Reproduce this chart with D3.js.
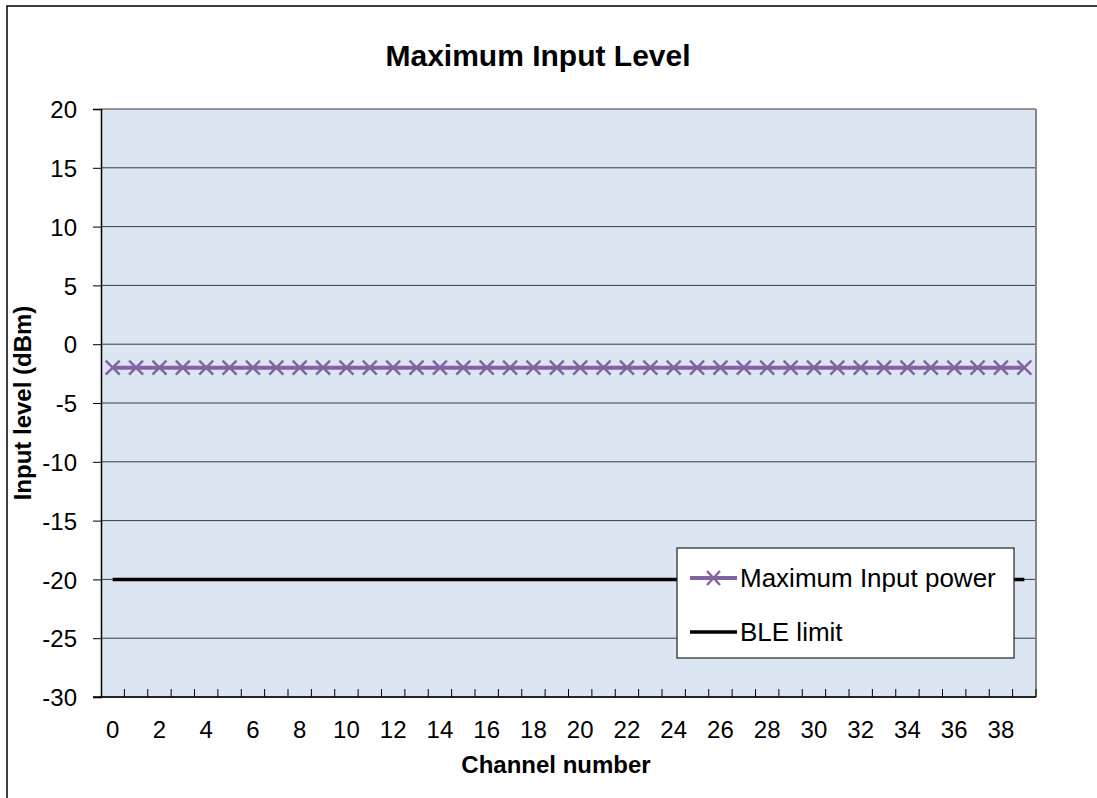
<!DOCTYPE html>
<html><head><meta charset="utf-8">
<script src="https://cdn.jsdelivr.net/npm/d3@7"></script>
<style>body{margin:0;background:#fff}svg{display:block;font-family:"Liberation Sans",Arial,sans-serif}</style>
</head><body>
<script>
const channels = d3.range(0, 40);
const maxInputPower = [-2,-2,-2,-2,-2,-2,-2,-2,-2,-2,-2,-2,-2,-2,-2,-2,-2,-2,-2,-2,-2,-2,-2,-2,-2,-2,-2,-2,-2,-2,-2,-2,-2,-2,-2,-2,-2,-2,-2,-2];
const bleLimit = [-20,-20,-20,-20,-20,-20,-20,-20,-20,-20,-20,-20,-20,-20,-20,-20,-20,-20,-20,-20,-20,-20,-20,-20,-20,-20,-20,-20,-20,-20,-20,-20,-20,-20,-20,-20,-20,-20,-20,-20];
const yTicks = [20,15,10,5,0,-5,-10,-15,-20,-25,-30];
const seriesNames = ["Maximum Input power","BLE limit"];

const W = 1097, H = 798;
const m = {l:101, t:109, r:1036, b:697};
const FF = "'Liberation Sans',Arial,sans-serif";
const svg = d3.select("body").append("svg").attr("width",W).attr("height",H);

// outer border
svg.append("rect").attr("x",7).attr("y",6).attr("width",W+10).attr("height",H+10)
  .attr("fill","none").attr("stroke","#000").attr("stroke-width",1.5);

const x = d3.scaleBand().domain(channels).range([m.l,m.r]).paddingInner(0).paddingOuter(0);
const y = d3.scaleLinear().domain([-30,20]).range([m.b,m.t]);

svg.append("rect").attr("x",m.l).attr("y",m.t).attr("width",m.r-m.l).attr("height",m.b-m.t)
  .attr("fill","#DCE6F2");

// gridlines
svg.append("g").selectAll("line").data(yTicks).join("line")
  .attr("x1",m.l).attr("x2",m.r).attr("y1",d=>y(d)).attr("y2",d=>y(d))
  .attr("stroke","#3a3a3a").attr("stroke-width",1);

// right border
svg.append("line").attr("x1",m.r).attr("x2",m.r).attr("y1",m.t).attr("y2",m.b)
  .attr("stroke","#888").attr("stroke-width",2);

// y axis
const yAxis = d3.axisLeft(y).tickValues(yTicks).tickSize(8).tickPadding(16).tickFormat(d=>String(d));
const gy = svg.append("g").attr("transform",`translate(${m.l},0)`).call(yAxis);
gy.select(".domain").attr("stroke","#000").attr("stroke-width",1.5);
gy.selectAll(".tick line").attr("stroke","#000");
gy.selectAll("text").attr("font-size",24).attr("fill","#000").style("font-family",FF).attr("dy","0.36em");

// x axis: ticks between categories, labels every 2
const gx = svg.append("g").attr("transform",`translate(0,${m.b})`);
gx.append("line").attr("x1",m.l-8).attr("x2",m.r).attr("y1",0).attr("y2",0).attr("stroke","#000").attr("stroke-width",1.5);
const bounds = d3.range(1, channels.length+1).map(i => m.l + i*x.step());
gx.selectAll("line.t").data(bounds).join("line").attr("class","t")
  .attr("x1",d=>d).attr("x2",d=>d).attr("y1",0).attr("y2",-8).attr("stroke","#000");
gx.selectAll("text").data(channels.filter(c=>c%2===0)).join("text")
  .attr("x",d=>x(d)+x.bandwidth()/2).attr("y",41).attr("text-anchor","middle")
  .attr("font-size",24).text(d=>d);

const cx = d => x(d)+x.bandwidth()/2;

// BLE limit
svg.append("path").datum(channels).attr("fill","none").attr("stroke","#000").attr("stroke-width",3.5)
  .attr("d", d3.line().x(cx).y((d,i)=>y(bleLimit[i])));

// Max input power
svg.append("path").datum(channels).attr("fill","none").attr("stroke","#8064A2").attr("stroke-width",4)
  .attr("d", d3.line().x(cx).y((d,i)=>y(maxInputPower[i])));
const s = 7;
const mk = svg.append("g").attr("stroke","#8064A2").attr("stroke-width",2.4);
channels.forEach((c,i)=>{
  const px = cx(c), py = y(maxInputPower[i]);
  mk.append("line").attr("x1",px-s).attr("y1",py-s).attr("x2",px+s).attr("y2",py+s);
  mk.append("line").attr("x1",px-s).attr("y1",py+s).attr("x2",px+s).attr("y2",py-s);
});

// legend
const lg = svg.append("g");
lg.append("rect").attr("x",677).attr("y",548).attr("width",337).attr("height",110)
  .attr("fill","#fff").attr("stroke","#222").attr("stroke-width",1.2);
lg.append("line").attr("x1",690).attr("x2",737).attr("y1",578).attr("y2",578).attr("stroke","#8064A2").attr("stroke-width",4);
lg.append("line").attr("x1",707).attr("y1",571).attr("x2",720).attr("y2",585).attr("stroke","#8064A2").attr("stroke-width",2.4);
lg.append("line").attr("x1",707).attr("y1",585).attr("x2",720).attr("y2",571).attr("stroke","#8064A2").attr("stroke-width",2.4);
lg.append("text").attr("x",740).attr("y",587).attr("font-size",26).text(seriesNames[0]);
lg.append("line").attr("x1",690).attr("x2",737).attr("y1",632).attr("y2",632).attr("stroke","#000").attr("stroke-width",3.5);
lg.append("text").attr("x",740).attr("y",641).attr("font-size",26).text(seriesNames[1]);

// titles
svg.append("text").attr("x",538).attr("y",66).attr("text-anchor","middle").attr("font-size",30).attr("font-weight","bold").text("Maximum Input Level");
svg.append("text").attr("x",556).attr("y",773).attr("text-anchor","middle").attr("font-size",24).attr("font-weight","bold").text("Channel number");
svg.append("text").attr("transform","translate(31,403) rotate(-90)").attr("text-anchor","middle").attr("font-size",24).attr("font-weight","bold").text("Input level (dBm)");
</script>
</body></html>
